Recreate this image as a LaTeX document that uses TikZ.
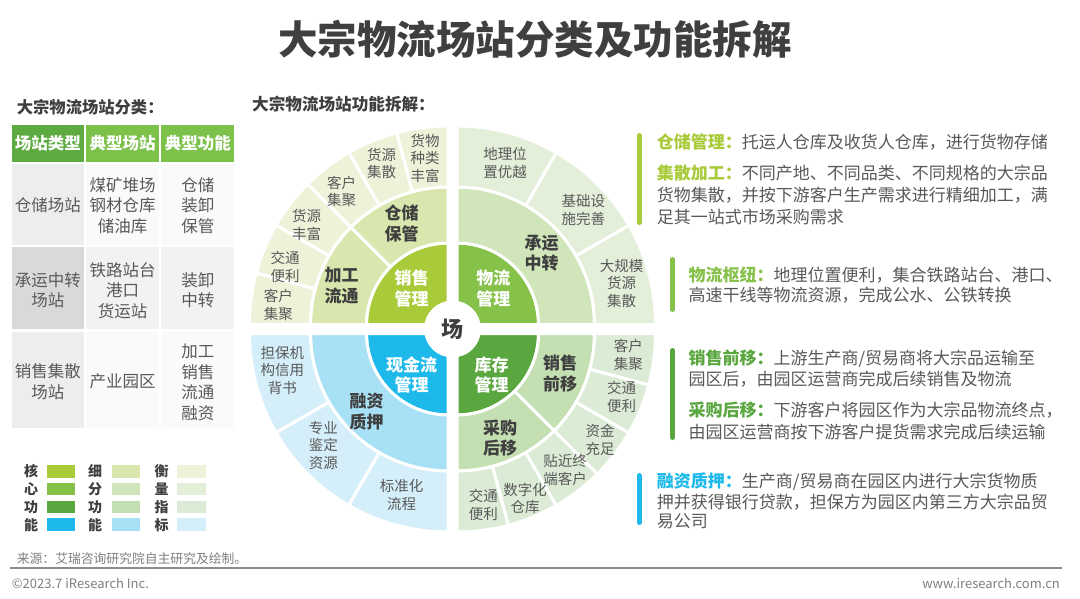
\documentclass[tikz,border=0pt]{standalone}
\usepackage{fontspec}
\setmainfont{Noto Sans CJK SC}
\usetikzlibrary{calc}
\definecolor{txtgray}{HTML}{595959}
\definecolor{txtdark}{HTML}{3F3F3F}
\definecolor{lightgray}{HTML}{8C8C8C}
\definecolor{coreA}{HTML}{A9CB3A}
\definecolor{coreB}{HTML}{86C14A}
\definecolor{coreC}{HTML}{5AA63F}
\definecolor{coreD}{HTML}{1CB9EA}
\definecolor{midA}{HTML}{D9E7AE}
\definecolor{midB}{HTML}{D0E6BA}
\definecolor{midC}{HTML}{C4DFB2}
\definecolor{midD}{HTML}{A8E0F5}
\definecolor{outA}{HTML}{ECF3D9}
\definecolor{outB}{HTML}{E4EFDA}
\definecolor{outC}{HTML}{DCEBD6}
\definecolor{outD}{HTML}{D5EFFA}
\definecolor{hdrA}{HTML}{5CAA40}
\definecolor{hdrB}{HTML}{7BC14A}
\newcommand\annsec[7]{\filldraw[fill=#7,draw=white,line width=3pt] ($(#1,#2)+(#5:#3)$) arc[start angle=#5,end angle=#6,radius=#3] -- ($(#1,#2)+(#6:#4)$) arc[start angle=#6,end angle=#5,radius=#4] -- cycle;}
\newcommand\coresec[5]{\filldraw[fill=#5,draw=white,line width=3pt] (#1,#2) -- ($(#1,#2)+(#3:81.5)$) arc[start angle=#3,end angle=#4,radius=81.5] -- cycle;}
\tikzset{
  outlbl/.style={font=\fontsize{14.5}{17.5}\selectfont, text=txtgray, align=center, inner sep=0pt},
  midlbl/.style={font=\fontsize{17}{20.5}\selectfont\bfseries, text=txtdark, align=center, inner sep=0pt},
  corelbl/.style={font=\fontsize{17}{20.5}\selectfont\bfseries, text=white, align=center, inner sep=0pt},
  tbl/.style={font=\fontsize{16.5}{20.5}\selectfont, text=txtgray, align=center, inner sep=0pt},
  tblhdr/.style={font=\fontsize{16.5}{20.5}\selectfont\bfseries, text=white, align=center, inner sep=0pt},
  desc/.style={font=\fontsize{17}{21}\selectfont, text=txtgray, anchor=west, inner sep=0pt},
  legtxt/.style={font=\fontsize{14}{18}\selectfont\bfseries, text=txtdark, align=center, inner sep=0pt},
  bar/.style={line width=5pt, line cap=round},
}
\begin{document}
\begin{tikzpicture}[x=1pt,y=1pt]
\useasboundingbox (0,0) rectangle (1080,-598);
\fill[white] (0,0) rectangle (1080,-598);

% title
\node[font=\fontsize{39.5}{40}\selectfont\bfseries, text=txtdark, inner sep=0pt] (title) at (535,-39) {大宗物流场站分类及功能拆解};
\node[font=\fontsize{16.3}{16}\selectfont\bfseries, text=txtdark, anchor=west, inner sep=0pt] (h1) at (16.7,-107.5) {大宗物流场站分类：};
\node[font=\fontsize{16.6}{17}\selectfont\bfseries, text=txtdark, anchor=west, inner sep=0pt] (h2) at (252,-104) {大宗物流场站功能拆解：};

% table
\fill[hdrA] (11.7,-125) rectangle (84,-161.7);
\fill[hdrB] (86,-125) rectangle (159.3,-161.7);
\fill[hdrB] (161.3,-125) rectangle (234.3,-161.7);
\fill[black!7] (11.7,-164) rectangle (84,-245);
\fill[black!2] (86,-164) rectangle (159.3,-245);
\fill[black!2] (161.3,-164) rectangle (234.3,-245);
\fill[black!15] (11.7,-247.3) rectangle (84,-329.3);
\fill[black!5] (86,-247.3) rectangle (159.3,-329.3);
\fill[black!5] (161.3,-247.3) rectangle (234.3,-329.3);
\fill[black!7] (11.7,-331.7) rectangle (84,-428.3);
\fill[black!2] (86,-331.7) rectangle (159.3,-428.3);
\fill[black!2] (161.3,-331.7) rectangle (234.3,-428.3);
\node[tblhdr] (th1) at (47.8,-143.3) {场站类型};
\node[tblhdr] (th2) at (122.6,-143.3) {典型场站};
\node[tblhdr] (th3) at (197.8,-143.3) {典型功能};
\node[tbl] (t11) at (47.8,-205) {仓储场站};
\node[tbl] (t12) at (122.6,-205.5) {煤矿堆场\\钢材仓库\\储油库};
\node[tbl] (t13) at (197.8,-205.5) {仓储\\装卸\\保管};
\node[tbl] (t21) at (47.8,-290) {承运中转\\场站};
\node[tbl] (t22) at (122.6,-290.5) {铁路站台\\港口\\货运站};
\node[tbl] (t23) at (197.8,-290) {装卸\\中转};
\node[tbl] (t31) at (47.8,-381.7) {销售集散\\场站};
\node[tbl] (t32) at (122.6,-381.7) {产业园区};
\node[tbl] (t33) at (197.8,-382.5) {加工\\销售\\流通\\融资};

% legend
\node[legtxt] (l1) at (31,-498.5) {核\\心\\功\\能};
\node[legtxt] (l2) at (95,-498.5) {细\\分\\功\\能};
\node[legtxt] (l3) at (161.7,-498.5) {衡\\量\\指\\标};
\foreach \c [count=\i from 0] in {coreA,coreB,coreC,coreD} {
  \fill[\c] (46.7,-465-17.8*\i) rectangle (75,-477.5-17.8*\i);
}
\foreach \c [count=\i from 0] in {midA,midB,midC,midD} {
  \fill[\c] (111.7,-465-17.8*\i) rectangle (140,-477.5-17.8*\i);
}
\foreach \c [count=\i from 0] in {outA,outB,outC,outD} {
  \fill[\c] (176.7,-465-17.8*\i) rectangle (205.7,-477.5-17.8*\i);
}

% radial chart
% top-left
\coresec{448}{-324.5}{90}{180}{coreA}
\annsec{448}{-324.5}{81.5}{137.5}{90}{135}{midA}
\annsec{448}{-324.5}{81.5}{137.5}{135}{180}{midA}
\foreach \a in {90,105,...,165} {\pgfmathsetmacro\b{\a+15}\annsec{448}{-324.5}{137.5}{198.5}{\a}{\b}{outA}}
% top-right
\coresec{457}{-324.5}{0}{90}{coreB}
\annsec{457}{-324.5}{81.5}{137.5}{0}{90}{midB}
\foreach \a in {0,30,60} {\pgfmathsetmacro\b{\a+30}\annsec{457}{-324.5}{137.5}{198.5}{\a}{\b}{outB}}
% bottom-right
\coresec{457}{-333.5}{-90}{0}{coreC}
\annsec{457}{-333.5}{81.5}{137.5}{-90}{-45}{midC}
\annsec{457}{-333.5}{81.5}{137.5}{-45}{0}{midC}
\foreach \a in {-90,-75,...,-15} {\pgfmathsetmacro\b{\a+15}\annsec{457}{-333.5}{137.5}{198.5}{\a}{\b}{outC}}
% bottom-left
\coresec{448}{-333.5}{180}{270}{coreD}
\annsec{448}{-333.5}{81.5}{137.5}{180}{270}{midD}
\foreach \a in {180,210,240} {\pgfmathsetmacro\b{\a+30}\annsec{448}{-333.5}{137.5}{198.5}{\a}{\b}{outD}}

\node[circle, fill=white, minimum size=57pt, inner sep=0pt, font=\fontsize{22}{22}\selectfont\bfseries, text=txtdark] (ctr) at (452.5,-329) {场};

% labels TL
\node[outlbl] (o1) at (425,-158.3) {货物\\种类\\丰富};
\node[outlbl] (o2) at (381.7,-163.3) {货源\\集散};
\node[outlbl] (o3) at (341.7,-191.7) {客户\\集聚};
\node[outlbl] (o4) at (306.7,-225) {货源\\丰富};
\node[outlbl] (o5) at (285,-266.7) {交通\\便利};
\node[outlbl] (o6) at (278.3,-305) {客户\\集聚};
\node[midlbl] (m1) at (401.7,-223.3) {仓储\\保管};
\node[midlbl] (m2) at (341.7,-285.7) {加工\\流通};
\node[corelbl] (c1) at (411.7,-288.3) {销售\\管理};
% labels TR
\node[outlbl] (o7) at (505,-162.7) {地理位\\置优越};
\node[outlbl] (o8) at (583.3,-210) {基础设\\施完善};
\node[outlbl] (o9) at (621.7,-283.3) {大规模\\货源\\集散};
\node[midlbl] (m3) at (541.7,-253.3) {承运\\中转};
\node[corelbl] (c2) at (493.3,-288.3) {物流\\管理};
% labels BL
\node[outlbl] (o10) at (282.3,-370) {担保机\\构信用\\背书};
\node[outlbl] (o11) at (323.3,-445) {专业\\鉴定\\资源};
\node[outlbl] (o12) at (401.7,-495) {标准化\\流程};
\node[midlbl] (m4) at (366.7,-411.7) {融资\\质押};
\node[corelbl] (c3) at (411.7,-375) {现金流\\管理};
% labels BR
\node[corelbl] (c4) at (491.7,-375) {库存\\管理};
\node[midlbl] (m5) at (560,-373.3) {销售\\前移};
\node[midlbl] (m6) at (500,-438.3) {采购\\后移};
\node[outlbl] (o13) at (628.3,-355) {客户\\集聚};
\node[outlbl] (o14) at (621.7,-396.7) {交通\\便利};
\node[outlbl] (o15) at (600,-440) {资金\\充足};
\node[outlbl] (o16) at (565,-470) {贴近终\\端客户};
\node[outlbl] (o17) at (525,-498.3) {数字化\\仓库};
\node[outlbl] (o18) at (483.3,-505) {交通\\便利};

% right descriptions
\draw[bar, coreA] (639.2,-135.5) coordinate (b1a) -- (639.2,-222.5) coordinate (b1b);
\node[desc] (d1) at (656.7,-141.7) {\textcolor{coreA}{\bfseries 仓储管理：}托运人仓库及收货人仓库，进行货物存储};
\node[desc] (d2) at (656.7,-173.3) {\textcolor{coreA}{\bfseries 集散加工：}不同产地、不同品类、不同规格的大宗品};
\node[desc] (d3) at (656.7,-195.5) {货物集散，并按下游客户生产需求进行精细加工，满};
\node[desc] (d4) at (656.7,-216.7) {足其一站式市场采购需求};

\draw[bar, coreB] (672.5,-259.5) coordinate (b2a) -- (672.5,-309.5) coordinate (b2b);
\node[desc] (d5) at (688.3,-275) {\textcolor{coreB}{\bfseries 物流枢纽：}地理位置便利，集合铁路站台、港口、};
\node[desc] (d6) at (688.3,-295.5) {高速干线等物流资源，完成公水、公铁转换};

\draw[bar, coreC] (672.5,-350.5) coordinate (b3a) -- (672.5,-437.5) coordinate (b3b);
\node[desc] (d7) at (688.3,-358.3) {\textcolor{coreC}{\bfseries 销售前移：}上游生产商/贸易商将大宗品运输至};
\node[desc] (d8) at (688.3,-378.8) {园区后，由园区运营商完成后续销售及物流};
\node[desc] (d9) at (688.3,-410.5) {\textcolor{coreC}{\bfseries 采购后移：}下游客户将园区作为大宗品物流终点，};
\node[desc] (d10) at (688.3,-431.7) {由园区运营商按下游客户提货需求完成后续运输};

\draw[bar, coreD] (639.2,-475.5) coordinate (b4a) -- (639.2,-522.5) coordinate (b4b);
\node[desc] (d11) at (656.7,-481.7) {\textcolor{coreD}{\bfseries 融资质押：}生产商/贸易商在园区内进行大宗货物质};
\node[desc] (d12) at (656.7,-501.7) {押并获得银行贷款，担保方为园区内第三方大宗品贸};
\node[desc] (d13) at (656.7,-521.7) {易公司};

% footer
\node[font=\fontsize{12.8}{13}\selectfont, text=black!50, anchor=west, inner sep=0pt] (src) at (16.7,-558.3) {来源：艾瑞咨询研究院自主研究及绘制。};
\coordinate (ln1) at (10,-568);
\coordinate (ln2) at (1062,-568);
\draw[lightgray, line width=1.3pt] (ln1) -- (ln2);
\node[font=\fontsize{13}{13}\selectfont, text=black!50, anchor=west, inner sep=0pt] (cp) at (11.7,-583.3) {©2023.7 iResearch Inc.};
\node[font=\fontsize{13}{13}\selectfont, text=black!50, anchor=east, inner sep=0pt] (www) at (1060,-583.3) {www.iresearch.com.cn};
\end{tikzpicture}
\end{document}
